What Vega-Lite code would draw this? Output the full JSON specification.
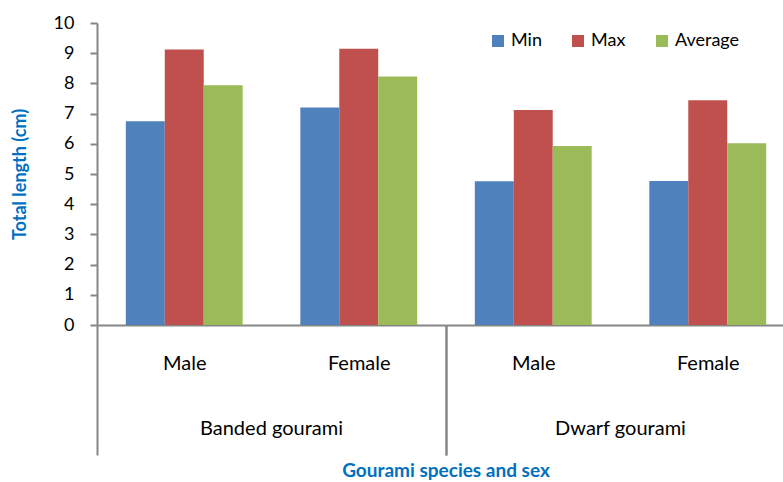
{
  "$schema": "https://vega.github.io/schema/vega-lite/v6.json",
  "padding": {"left": 11, "top": 14, "right": 0, "bottom": 0},
  "background": "white",
  "config": {
    "font": "Lato",
    "view": {"stroke": null},
    "axis": {"domainColor": "#868686", "tickColor": "#868686", "labelColor": "black", "labelFont": "Lato", "labelFontSize": 18, "grid": false}
  },
  "data": {
    "values": [
      {"species": "Banded gourami", "sex": "Male", "measure": "Min", "value": 6.75},
      {"species": "Banded gourami", "sex": "Male", "measure": "Max", "value": 9.12},
      {"species": "Banded gourami", "sex": "Male", "measure": "Average", "value": 7.94},
      {"species": "Banded gourami", "sex": "Female", "measure": "Min", "value": 7.2},
      {"species": "Banded gourami", "sex": "Female", "measure": "Max", "value": 9.15},
      {"species": "Banded gourami", "sex": "Female", "measure": "Average", "value": 8.23},
      {"species": "Dwarf gourami", "sex": "Male", "measure": "Min", "value": 4.76},
      {"species": "Dwarf gourami", "sex": "Male", "measure": "Max", "value": 7.12},
      {"species": "Dwarf gourami", "sex": "Male", "measure": "Average", "value": 5.93},
      {"species": "Dwarf gourami", "sex": "Female", "measure": "Min", "value": 4.77},
      {"species": "Dwarf gourami", "sex": "Female", "measure": "Max", "value": 7.44},
      {"species": "Dwarf gourami", "sex": "Female", "measure": "Average", "value": 6.02}
    ]
  },
  "spacing": 0,
  "facet": {
    "column": {
      "field": "species", "type": "nominal",
      "sort": ["Banded gourami", "Dwarf gourami"],
      "title": "Gourami species and sex",
      "header": {
        "labelOrient": "bottom", "titleOrient": "bottom",
        "labelFont": "Lato", "labelFontSize": 20, "labelColor": "black", "labelPadding": -37,
        "titleFont": "Lato", "titleFontSize": 19, "titleFontWeight": "bold", "titleColor": "#0070C0", "titlePadding": -4
      }
    }
  },
  "spec": {
    "width": 349,
    "height": 302,
    "mark": {"type": "bar"},
    "encoding": {
      "x": {
        "field": "sex", "type": "nominal", "sort": ["Male", "Female"],
        "scale": {"paddingInner": 0, "paddingOuter": 0},
        "axis": {
          "title": null, "labelAngle": 0, "tickBand": "extent", "tickSize": 130, "labelPadding": -102,
          "labelFontSize": 20,
          "tickColor": {"condition": {"test": "datum.value === 'Male'", "value": "transparent"}, "value": "#868686"},
          "tickWidth": 2, "domainWidth": 2
        }
      },
      "xOffset": {"field": "measure", "sort": ["Min", "Max", "Average"], "scale": {"paddingInner": 0, "paddingOuter": 0.74}},
      "y": {
        "field": "value", "type": "quantitative",
        "scale": {"domain": [0, 10], "nice": false},
        "axis": {
          "title": "Total length (cm)", "values": [0,1,2,3,4,5,6,7,8,9,10],
          "tickSize": 7, "labelPadding": 16, "domainWidth": 2, "tickWidth": 2,
          "titleFont": "Lato", "titleFontSize": 18, "titleFontWeight": "bold", "titleColor": "#0070C0", "titlePadding": 24
        }
      },
      "color": {
        "field": "measure", "type": "nominal", "sort": ["Min", "Max", "Average"],
        "scale": {"domain": ["Min", "Max", "Average"], "range": ["#4F81BD", "#C0504D", "#9BBB59"]},
        "legend": {
          "title": null, "orient": "none", "direction": "horizontal", "columns": 3,
          "legendX": 392, "legendY": 9, "padding": 0,
          "symbolType": "square", "symbolSize": 144, "symbolStrokeWidth": 0, "symbolOpacity": 1,
          "labelFont": "Lato", "labelFontSize": 18, "labelColor": "black", "labelOffset": 4, "columnPadding": 27
        }
      }
    }
  }
}
